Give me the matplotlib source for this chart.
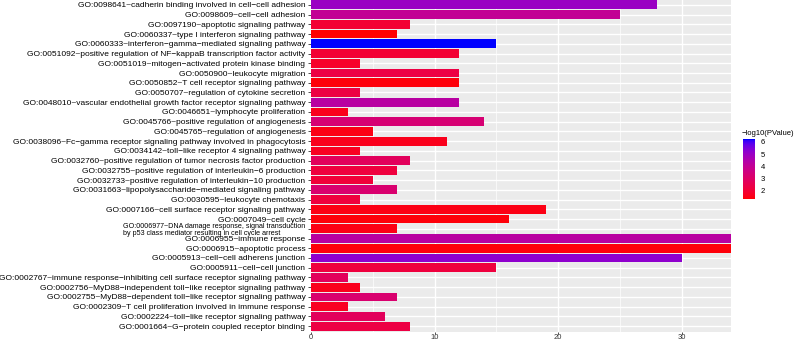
import numpy as np
import matplotlib
matplotlib.use("Agg")
import matplotlib.pyplot as plt
from matplotlib.colors import ListedColormap, Normalize
from matplotlib.cm import ScalarMappable

# GO terms, top to bottom as they appear in the chart
TERMS = [
    "GO:0098641~cadherin binding involved in cell-cell adhesion",
    "GO:0098609~cell-cell adhesion",
    "GO:0097190~apoptotic signaling pathway",
    "GO:0060337~type I interferon signaling pathway",
    "GO:0060333~interferon-gamma-mediated signaling pathway",
    "GO:0051092~positive regulation of NF-kappaB transcription factor activity",
    "GO:0051019~mitogen-activated protein kinase binding",
    "GO:0050900~leukocyte migration",
    "GO:0050852~T cell receptor signaling pathway",
    "GO:0050707~regulation of cytokine secretion",
    "GO:0048010~vascular endothelial growth factor receptor signaling pathway",
    "GO:0046651~lymphocyte proliferation",
    "GO:0045766~positive regulation of angiogenesis",
    "GO:0045765~regulation of angiogenesis",
    "GO:0038096~Fc-gamma receptor signaling pathway involved in phagocytosis",
    "GO:0034142~toll-like receptor 4 signaling pathway",
    "GO:0032760~positive regulation of tumor necrosis factor production",
    "GO:0032755~positive regulation of interleukin-6 production",
    "GO:0032733~positive regulation of interleukin-10 production",
    "GO:0031663~lipopolysaccharide-mediated signaling pathway",
    "GO:0030595~leukocyte chemotaxis",
    "GO:0007166~cell surface receptor signaling pathway",
    "GO:0007049~cell cycle",
    "GO:0006977~DNA damage response, signal transduction\nby p53 class mediator resulting in cell cycle arrest",
    "GO:0006955~immune response",
    "GO:0006915~apoptotic process",
    "GO:0005913~cell-cell adherens junction",
    "GO:0005911~cell-cell junction",
    "GO:0002767~immune response-inhibiting cell surface receptor signaling pathway",
    "GO:0002756~MyD88-independent toll-like receptor signaling pathway",
    "GO:0002755~MyD88-dependent toll-like receptor signaling pathway",
    "GO:0002309~T cell proliferation involved in immune response",
    "GO:0002224~toll-like receptor signaling pathway",
    "GO:0001664~G-protein coupled receptor binding",
]

COUNTS = [28, 25, 8, 7, 15, 12, 4, 12, 12, 4, 12, 3, 14, 5, 11, 4, 8, 7,
          5, 7, 4, 19, 16, 7, 34, 34, 30, 15, 3, 4, 7, 3, 6, 8]

NEG_LOG_P = [5.0, 4.0, 2.0, 1.32, 6.22, 2.0, 1.8, 2.3, 1.4, 2.3, 4.3, 1.6,
             3.3, 1.5, 1.6, 1.7, 2.8, 2.2, 2.1, 3.2, 2.2, 1.5, 1.4, 1.5,
             4.3, 1.4, 5.2, 2.2, 2.8, 1.6, 3.2, 1.7, 2.8, 2.3]


def srgb_to_lab(rgb):
    c = np.asarray(rgb, dtype=float)
    lin = np.where(c <= 0.04045, c / 12.92, ((c + 0.055) / 1.055) ** 2.4)
    m = np.array([[0.4124, 0.3576, 0.1805],
                  [0.2126, 0.7152, 0.0722],
                  [0.0193, 0.1192, 0.9505]])
    t = m @ lin / np.array([0.95047, 1.0, 1.08883])
    f = np.where(t > 0.008856, np.cbrt(t), 7.787 * t + 16 / 116)
    return np.array([116 * f[1] - 16, 500 * (f[0] - f[1]), 200 * (f[1] - f[2])])


def lab_to_srgb(lab):
    L, a, b = lab
    fy = (L + 16) / 116
    f = np.array([fy + a / 500, fy, fy - b / 200])
    t = np.where(f ** 3 > 0.008856, f ** 3, (f - 16 / 116) / 7.787)
    xyz = t * np.array([0.95047, 1.0, 1.08883])
    m = np.array([[3.2406, -1.5372, -0.4986],
                  [-0.9689, 1.8758, 0.0415],
                  [0.0557, -0.2040, 1.0570]])
    lin = np.clip(m @ xyz, 0, 1)
    c = np.where(lin <= 0.0031308, 12.92 * lin, 1.055 * lin ** (1 / 2.4) - 0.055)
    return np.clip(c, 0, 1)


# red -> blue gradient interpolated in Lab, like ggplot's scale_fill_gradient
lo, hi = srgb_to_lab([1, 0, 0]), srgb_to_lab([0, 0, 1])
cmap = ListedColormap([lab_to_srgb(lo + (hi - lo) * s) for s in np.linspace(0, 1, 256)])
norm = Normalize(vmin=min(NEG_LOG_P), vmax=max(NEG_LOG_P))

plt.rcParams["font.family"] = ["Liberation Sans", "DejaVu Sans"]

fig = plt.figure(figsize=(7.96, 3.4), dpi=100)
ax = fig.add_axes([311 / 796, 8 / 340, 420 / 796, 333 / 340])

ypos = np.arange(len(TERMS))
ax.barh(ypos, COUNTS, height=0.9, color=cmap(norm(np.array(NEG_LOG_P))), zorder=3)

ax.set_facecolor("#EBEBEB")
ax.set_xlim(0, 34)
ax.set_ylim(len(TERMS) - 0.4, -0.6)
ax.set_xticks([0, 10, 20, 30])
ax.set_xticks([5, 15, 25], minor=True)
ax.set_yticks(ypos)
ax.set_yticklabels([t.replace("-", "\u2212") for t in TERMS])
ax.grid(True, which="major", color="white", linewidth=1.0, zorder=1)
ax.grid(True, which="minor", axis="x", color="white", linewidth=0.5, zorder=1)
for s in ax.spines.values():
    s.set_visible(False)
ax.tick_params(axis="y", which="major", labelsize=6.0, colors="#333333",
               length=2.5, width=0.6, pad=1.5)
ax.tick_params(axis="x", which="major", labelsize=5.5, colors="#333333",
               length=1.5, width=0.6, pad=0)
ax.tick_params(axis="x", which="minor", length=0)

for i, lab in enumerate(ax.get_yticklabels()):
    lab.set_color("black")
    if "\n" in TERMS[i]:
        lab.set_fontsize(5.1)
        lab.set_multialignment("left")
        lab.set_linespacing(0.95)

# colour legend
cax = fig.add_axes([743 / 796, (340 - 199.3) / 340, 12 / 796, 60 / 340])
cb = fig.colorbar(ScalarMappable(norm=norm, cmap=cmap), cax=cax, ticks=[2, 3, 4, 5, 6])
cb.outline.set_visible(False)
cax.tick_params(labelsize=5.5, length=2, color="white", pad=2)
fig.text(742 / 796, 1 - 133.7 / 340, "\u2212log10(PValue)", fontsize=5.5,
         va="center", ha="left")

fig.savefig("out.png", dpi=100)
